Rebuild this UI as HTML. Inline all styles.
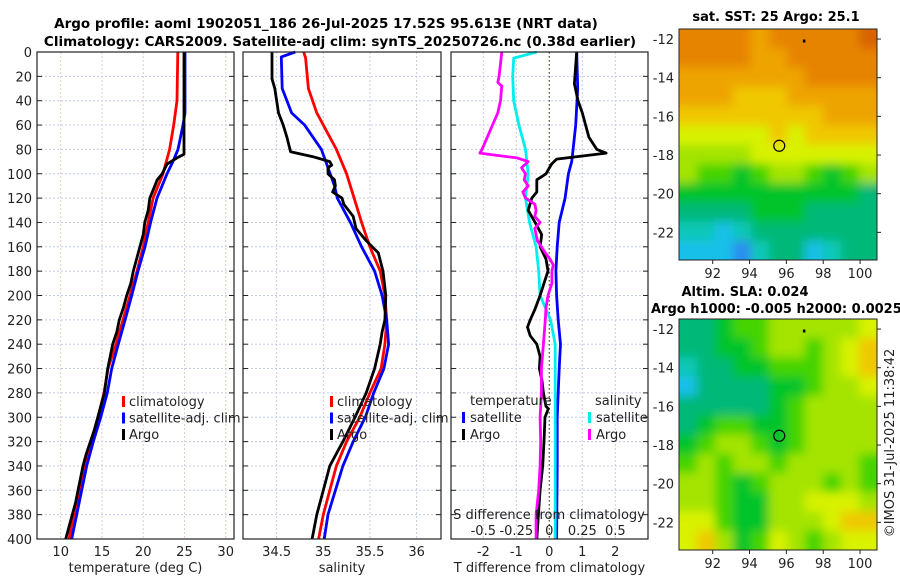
<!DOCTYPE html>
<html><head><meta charset="utf-8"><style>
html,body{margin:0;padding:0;background:#fff;}
svg{display:block;font-family:"DejaVu Sans","Liberation Sans",sans-serif;}
</style></head><body>
<svg id="fig" width="900" height="580" viewBox="0 0 900 580" xmlns="http://www.w3.org/2000/svg">
<defs>
<filter id="smooth" x="-5%" y="-5%" width="110%" height="110%"><feGaussianBlur stdDeviation="5"/></filter>
<clipPath id="clipSst"><rect x="679" y="29" width="198" height="231"/></clipPath>
<clipPath id="clipSla"><rect x="679" y="319" width="198" height="231"/></clipPath>
</defs>
<rect x="0" y="0" width="900" height="580" fill="#fff"/>
<g font-weight="bold" font-size="13.5" text-anchor="middle" fill="#000">
<text x="326" y="28">Argo profile: aoml 1902051_186 26-Jul-2025 17.52S 95.613E (NRT data)</text>
<text x="340" y="46">Climatology: CARS2009. Satellite-adj clim: synTS_20250726.nc (0.38d earlier)</text>
</g>
<g id="layer"></g>
</svg>
<script>
// ---------- data ----------
const depthTicks = [0,20,40,60,80,100,120,140,160,180,200,220,240,260,280,300,320,340,360,380,400];
const tempTicks = [10,15,20,25,30];
const salTicks = [34.5,35,35.5,36];
const tdiffTicks = [-2,-1,0,1,2];
const sdiffTicks = [-0.5,-0.25,0,0.25,0.5];
const sdiffTickLabels = ['-0.5','-0.25','0','0.25','0.5'];

const tempClimDepth = [0,40,60,80,100,120,140,160,180,200,220,240,260,280,300,320,340,360,380,400];
const tempClim = [24.2,24.1,23.7,23.2,22.4,21.2,20.6,20.0,19.25,18.4,17.55,16.7,15.73,15.25,14.52,13.67,12.82,12.22,11.6,11.0];
const tempSatDepth = [0,50,60,80,90,100,120,140,160,180,200,220,240,260,280,300,320,340,360,380,400];
const tempSat = [25.07,25.07,24.82,24.22,23.6,22.88,21.67,20.9,20.22,19.37,18.6,17.8,16.98,16.18,15.65,14.85,13.95,13.15,12.55,11.94,11.33];
const tempArgoDepth = [0,84,87,92,100,105,110,120,130,140,150,160,170,180,190,200,210,220,230,240,250,260,270,280,290,300,310,320,330,340,350,360,370,380,390,400];
const tempArgo = [24.95,24.95,24.1,22.9,22.3,21.7,21.4,20.8,20.6,20.2,20.0,19.6,19.2,18.8,18.5,18.0,17.6,17.1,16.8,16.3,16.0,15.7,15.5,15.3,14.9,14.5,14.1,13.6,13.1,12.7,12.4,12.1,11.8,11.4,11.0,10.6];

const salClimDepth = [0,5,30,50,80,100,120,140,160,180,200,220,240,260,280,300,320,340,360,380,400];
const salClim = [34.79,34.81,34.84,34.93,35.14,35.25,35.33,35.41,35.5,35.61,35.66,35.68,35.66,35.62,35.5,35.39,35.25,35.14,35.07,35.0,34.95];
const salSatDepth = [0,4,30,50,60,80,95,110,120,140,160,180,200,220,240,260,280,300,320,340,360,380,400];
const salSat = [34.70,34.55,34.56,34.66,34.80,34.98,35.05,35.12,35.15,35.29,35.41,35.55,35.63,35.68,35.70,35.65,35.54,35.45,35.32,35.21,35.13,35.05,35.01];
const salArgoDepth = [0,22,30,50,60,70,82,86,90,93,95,100,105,110,115,120,125,130,135,145,155,165,180,200,220,230,240,260,280,300,320,340,360,380,400];
const salArgo = [34.45,34.45,34.48,34.52,34.57,34.61,34.65,34.89,35.07,35.09,35.05,35.05,35.12,35.13,35.1,35.2,35.22,35.27,35.32,35.35,35.46,35.59,35.64,35.67,35.66,35.63,35.61,35.55,35.46,35.34,35.21,35.07,35.0,34.93,34.88];

const tdSatDepth = [0,30,60,80,90,100,120,140,160,180,200,220,240,260,280,300,340,400];
const tdSat = [0.83,0.86,0.8,0.72,0.68,0.58,0.48,0.3,0.24,0.2,0.22,0.27,0.34,0.3,0.27,0.24,0.24,0.22];
const tdArgoDepth = [0,26,40,50,70,80,83,85,88,92,100,105,115,120,130,140,150,160,170,180,190,200,211,220,226,233,240,250,260,270,280,291,293,300,320,340,360,380,400];
const tdArgo = [0.83,0.76,0.87,1.0,1.2,1.44,1.72,1.13,0.22,0.07,-0.1,-0.38,-0.38,-0.53,-0.64,-0.43,-0.23,-0.28,-0.1,-0.04,-0.16,-0.28,-0.43,-0.58,-0.66,-0.58,-0.38,-0.28,-0.3,-0.22,-0.18,-0.1,-0.03,-0.13,-0.16,-0.2,-0.28,-0.33,-0.38];
const sdSatDepth = [0,5,20,40,50,60,80,100,120,140,160,180,200,220,240,260,320,400];
const sdSat = [-0.095,-0.27,-0.277,-0.27,-0.25,-0.23,-0.18,-0.16,-0.18,-0.15,-0.1,-0.08,-0.07,0.01,0.045,0.045,0.045,0.045];
const sdArgoDepth = [0,20,25,28,40,50,60,70,80,83,85,87,90,95,100,105,110,115,120,125,130,135,140,145,150,155,160,165,170,175,180,190,200,210,220,240,260,280,300,320,340,360,380,400];
const sdArgo = [-0.36,-0.38,-0.39,-0.36,-0.37,-0.39,-0.43,-0.47,-0.51,-0.525,-0.39,-0.245,-0.16,-0.21,-0.18,-0.19,-0.16,-0.2,-0.18,-0.11,-0.1,-0.11,-0.07,-0.11,-0.1,-0.09,-0.06,-0.03,0.005,0.03,0.02,0.02,-0.01,-0.025,-0.03,-0.045,-0.06,-0.06,-0.07,-0.065,-0.07,-0.08,-0.1,-0.1];

const mapLonTicks = [92,94,96,98,100];
const mapLatTicks = [-12,-14,-16,-18,-20,-22];
const sstGrid = [
[10,10,10,10,9,10,10,10,10,10,11],
[10,10,10,10,9,9,10,10,10,10,10],
[9,9,9,9,9,9,9,10,10,10,10],
[9,9,9,8,8,8,9,9,9,9,9],
[8,8,8,8,8,8,8,8,9,9,9],
[7,7,7,7,7,8,7,8,8,8,8],
[6,6,6,6,7,7,7,7,7,7,7],
[6,5,5,4,5,6,6,5,4,5,6],
[4,4,4,4,4,4,4,4,4,4,3],
[3,3,3,3,4,4,4,3,3,3,3],
[2,2,1,2,3,3,3,3,3,3,3],
[1,1,1,0,2,3,3,1,2,3,3]];
const slaGrid = [
[3,3,4,5,5,6,6,6,6,6,7],
[3,3,4,4,5,6,6,5,6,7,8],
[2,3,3,4,4,5,5,5,6,7,8],
[1,3,3,3,3,4,4,5,6,6,7],
[3,3,3,3,3,4,5,6,6,6,6],
[3,4,5,5,4,4,5,6,6,6,6],
[4,5,6,6,5,4,5,6,6,6,6],
[5,6,5,6,6,5,6,6,6,6,5],
[6,6,5,4,5,6,6,6,5,6,5],
[6,6,5,4,4,6,6,7,7,7,6],
[7,7,5,4,4,6,6,6,7,8,8],
[7,8,6,4,5,7,6,5,6,7,7]];
const argoLon = 95.613, argoLat = -17.52;

// ---------- drawing ----------
const NS='http://www.w3.org/2000/svg';
const layer=document.getElementById('layer');
function el(tag,attrs,parent){const e=document.createElementNS(NS,tag);for(const k in attrs)e.setAttribute(k,attrs[k]);(parent||layer).appendChild(e);return e;}
function txt(x,y,s,attrs,parent){const t=el('text',Object.assign({x:x,y:y,'font-size':13,fill:'#222'},attrs||{}),parent);t.textContent=s;return t;}

const TOP=52, BOT=539;
const yD=d=>TOP+(d/400)*(BOT-TOP);

function panel(name,x0,x1,xs,xt,xlabels,xlabel,gridCol){
  const g=el('g',{});
  
  
  depthTicks.forEach(d=>{
    const l=el('line',{x1:x0,x2:x1,y1:yD(d),y2:yD(d),stroke:'#c4cbe8','stroke-dasharray':'2,2','stroke-width':1},g);
     
    el('line',{x1:x0,x2:x0+5,y1:yD(d),y2:yD(d),stroke:'#222'},g);
    el('line',{x1:x1-5,x2:x1,y1:yD(d),y2:yD(d),stroke:'#222'},g);
  });
  xt.forEach(v=>{
    const X=xs(v);
    el('line',{x1:X,x2:X,y1:TOP,y2:BOT,stroke:gridCol,'stroke-dasharray':'2,2','stroke-width':1},g);
  });
  if(xlabels){xt.forEach((v,i)=>{const t=txt(xs(v),556,xlabels[i],{'text-anchor':'middle'},g);});}
  if(xlabel){const t=txt((x0+x1)/2,572,xlabel,{'text-anchor':'middle'},g);}
  return g;
}
function line(g,depths,vals,xs,color,name){
  const p=depths.map((d,i)=>(i?'L':'M')+xs(vals[i]).toFixed(1)+','+yD(d).toFixed(1)).join(' ');
  const e=el('path',{d:p,fill:'none',stroke:color,'stroke-width':2.8,'stroke-linejoin':'round'},g);
  
  
}
function frame(g,x0,x1){el('rect',{x:x0,y:TOP,width:x1-x0,height:BOT-TOP,fill:'none',stroke:'#222','stroke-width':1.2},g);}
function legendMark(g,x,y,color){el('rect',{x:x,y:y-6,width:3,height:11,fill:color},g);}

// Panel 1 temperature
const xT=v=>60.7+(v-10)*8.25;
const p1=panel('temperature-panel',37,234,xT,tempTicks,tempTicks.map(String),'temperature (deg C)','#e8c8c0');
line(p1,tempClimDepth,tempClim,xT,'#ff0000','climatology-temp-line');
line(p1,tempSatDepth,tempSat,xT,'#0000ff','satellite-temp-line');
line(p1,tempArgoDepth,tempArgo,xT,'#000000','argo-temp-line');
frame(p1,37,234);
depthTicks.forEach(d=>{const t=txt(32,yD(d)+5,String(d),{'text-anchor':'end'});});
[['climatology','#ff0000'],['satellite-adj. clim','#0000ff'],['Argo','#000']].forEach((it,i)=>{
  const lg=el('g',{},p1);
  legendMark(lg,122,402+i*16.5,it[1]);txt(129,406+i*16.5,it[0],{},lg);
});

// Panel 2 salinity
const xS=v=>323.3+(v-35)*93.3;
const p2=panel('salinity-panel',243,441,xS,salTicks,salTicks.map(String),'salinity','#c4cbe8');
line(p2,salClimDepth,salClim,xS,'#ff0000','climatology-sal-line');
line(p2,salSatDepth,salSat,xS,'#0000ff','satellite-sal-line');
line(p2,salArgoDepth,salArgo,xS,'#000000','argo-sal-line');
frame(p2,243,441);
[['climatology','#ff0000'],['satellite-adj. clim','#0000ff'],['Argo','#000']].forEach((it,i)=>{
  const lg=el('g',{},p2);
  legendMark(lg,330,402+i*16.5,it[1]);txt(337,406+i*16.5,it[0],{},lg);
});

// Panel 3 differences
const xTd=v=>549.3+v*33;
const xSd=v=>549.3+v*132;
const p3=panel('difference-panel',451,648,xTd,tdiffTicks,tdiffTicks.map(String),'T difference from climatology','#c4cbe8');
el('line',{x1:xTd(0),x2:xTd(0),y1:TOP,y2:BOT,stroke:'#556633','stroke-dasharray':'1.5,2.5','stroke-width':1.3},p3);
line(p3,tdSatDepth,tdSat,xTd,'#0000ff','satellite-tdiff-line');
line(p3,sdSatDepth,sdSat,xSd,'#00eeee','satellite-sdiff-line');
line(p3,tdArgoDepth,tdArgo,xTd,'#000000','argo-tdiff-line');
line(p3,sdArgoDepth,sdArgo,xSd,'#ff00ff','argo-sdiff-line');
frame(p3,451,648);
{const t=txt(549,519,'S difference from climatology',{'text-anchor':'middle'},p3);}
sdiffTicks.forEach((v,i)=>{const t=txt(xSd(v),535,sdiffTickLabels[i],{'text-anchor':'middle'},p3);});
txt(470,405,'temperature',{},p3);txt(595,405,'salinity',{},p3);
[['satellite','#0000ff',462],['Argo','#000',462],['satellite','#00eeee',588],['Argo','#ff00ff',588]].forEach((it,i)=>{
  const lg=el('g',{},p3);
  const yy=418+(i%2)*17;legendMark(lg,it[2],yy,it[1]);txt(it[2]+8,yy+4,it[0],{},lg);
});

// Maps
const cmap=['#2a8cf0','#18c0e8','#10c8b8','#00b878','#00c42a','#44d400','#a4e400','#d8f200','#f0c800','#eea400','#e68400','#d86400'];
function drawMap(name,top,bot,grid,clipId){
  const L=679,R=877,lonMin=90.17,lonMax=100.92;
  const latTop=-11.48, latBot=latTop-(bot-top)/19.33;
  const xs=lon=>L+(lon-lonMin)/(lonMax-lonMin)*(R-L);
  const ys=lat=>top+(latTop-lat)/(latTop-latBot)*(bot-top);
  const g=el('g',{});
  
  
  const clipG=el('g',{'clip-path':'url(#'+clipId+')'},g);
  const cells=el('g',{filter:'url(#smooth)'},clipG);
  const rows=grid.length, cols=grid[0].length;
  const cw=(R-L)/cols, ch=(bot-top)/rows;
  grid.forEach((row,r)=>row.forEach((v,c)=>{
    // extend edge cells outward so the blur doesn't fade at borders
    const x=L+c*cw-(c===0?10:0), y=top+r*ch-(r===0?10:0);
    const w=cw+0.6+(c===0?10:0)+(c===cols-1?10:0), h=ch+0.6+(r===0?10:0)+(r===rows-1?10:0);
    const cell=el('rect',{x:x.toFixed(2),y:y.toFixed(2),width:w.toFixed(2),height:h.toFixed(2),fill:cmap[v]},cells);
    
    
  }));
  el('rect',{x:L,y:top,width:R-L,height:bot-top,fill:'none',stroke:'#222','stroke-width':1},g);
  mapLatTicks.forEach(lat=>{
    const Y=ys(lat);
    el('line',{x1:R,x2:R+4,y1:Y,y2:Y,stroke:'#222'},g);
    const t=txt(674,Y+5,String(lat),{'text-anchor':'end'},g);
  });
  mapLonTicks.forEach(lon=>{
    const X=xs(lon);
    el('line',{x1:X,x2:X,y1:bot,y2:bot+4,stroke:'#222'},g);
    const t=txt(X,bot+18,String(lon),{'text-anchor':'middle'},g);
  });
  const c=el('circle',{cx:xs(argoLon),cy:ys(argoLat),r:5.5,fill:'none',stroke:'#000','stroke-width':1.2},g);
  
  el('rect',{x:xs(96.95)-1,y:ys(-12.1)-1.5,width:2.5,height:3,fill:'#000'},g);
  return g;
}
drawMap('sst-map',29,260,sstGrid,'clipSst');
drawMap('sla-map',319,550,slaGrid,'clipSla');
{
 const t1=txt(776,21,'sat. SST: 25 Argo: 25.1',{'text-anchor':'middle','font-weight':'bold','fill':'#000'});
 const t2=txt(745,296,'Altim. SLA: 0.024',{'text-anchor':'middle','font-weight':'bold','fill':'#000'});
 const t3=txt(651,313,'Argo h1000: -0.005 h2000: 0.0025',{'font-weight':'bold','fill':'#000'});
 const t4=txt(0,0,'\u00a9IMOS 31-Jul-2025 11:38:42',{'text-anchor':'middle',transform:'translate(894,443) rotate(-90)'});
}
</script>
</body></html>
